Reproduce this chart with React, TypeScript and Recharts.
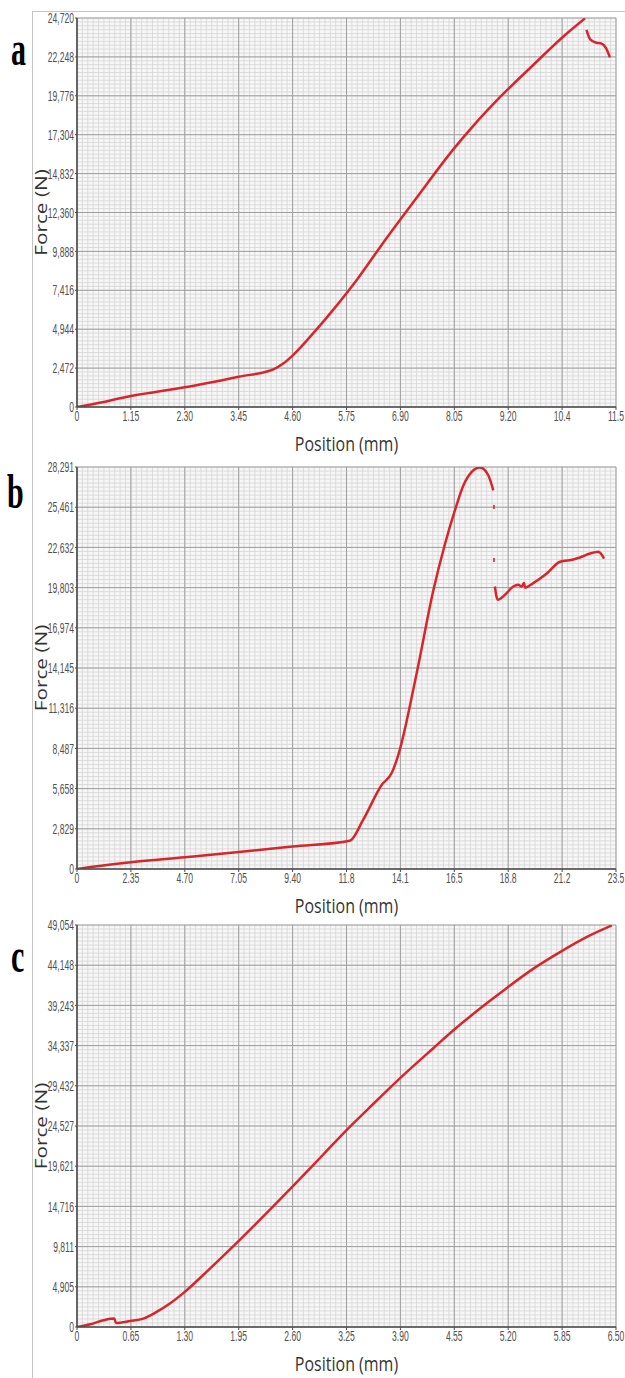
import React from 'react';
import { ComposedChart, Line, Scatter, XAxis, YAxis, CartesianGrid, Label } from 'recharts';

// ---------- Panel a ----------
const posTicksA = [0, 1.15, 2.3, 3.45, 4.6, 5.75, 6.9, 8.05, 9.2, 10.35, 11.5];
const posLabelsA = ['0', '1.15', '2.30', '3.45', '4.60', '5.75', '6.90', '8.05', '9.20', '10.4', '11.5'];
const forceTicksA = [0, 2472, 4944, 7416, 9888, 12360, 14832, 17304, 19776, 22248, 24720];
const aPos = [0, 0.3, 1.15, 2.3, 3.45, 4.19, 4.4, 4.61, 5.0, 5.5, 6.0, 6.5, 7.21, 8.05, 8.45, 9.03, 9.74, 10.36, 10.84];
const aForce = [0, 160, 700, 1250, 1925, 2395, 2760, 3300, 4550, 6300, 8200, 10300, 13150, 16450, 17850, 19700, 21750, 23500, 24700];
const aPostPos = [10.87, 10.95, 11.08, 11.18, 11.29, 11.37];
const aPostForce = [23960, 23360, 23150, 23110, 22790, 22220];

// ---------- Panel b ----------
const posTicksB = [0, 2.35, 4.7, 7.05, 9.4, 11.75, 14.1, 16.45, 18.8, 21.15, 23.5];
const posLabelsB = ['0', '2.35', '4.70', '7.05', '9.40', '11.8', '14.1', '16.5', '18.8', '21.2', '23.5'];
const forceTicksB = [0, 2829, 5658, 8487, 11316, 14145, 16974, 19803, 22632, 25461, 28291];
const bPos = [0, 0.6, 2.35, 4.7, 7.05, 9.4, 11.9, 12.48, 13.29, 13.72, 14.01, 14.81, 15.54, 16.05, 16.48, 16.85, 17.21, 17.57, 17.93, 18.15];
const bForce = [0, 140, 480, 830, 1190, 1580, 1990, 3470, 5930, 6750, 8030, 13780, 19630, 22910, 25250, 27010, 27950, 28260, 27710, 26650];
const bDotPos = [18.18, 18.18];
const bDotForce = [25480, 21750];
const bPostPos = [18.22, 18.34, 18.66, 19.02, 19.24, 19.39, 19.49, 19.53, 19.89, 20.48, 21.06, 21.64, 21.93, 22.37, 22.73, 22.98];
const bPostForce = [19880, 18950, 19300, 19880, 20000, 19880, 20120, 19800, 20120, 20800, 21620, 21780, 21920, 22200, 22320, 21850];

// ---------- Panel c ----------
const posTicksC = [0, 0.65, 1.3, 1.95, 2.6, 3.25, 3.9, 4.55, 5.2, 5.85, 6.5];
const posLabelsC = ['0', '0.65', '1.30', '1.95', '2.60', '3.25', '3.90', '4.55', '5.20', '5.85', '6.50'];
const forceTicksC = [0, 4905, 9811, 14716, 19621, 24527, 29432, 34337, 39243, 44148, 49054];
const cPos = [0, 0.16, 0.32, 0.45, 0.47, 0.64, 0.8, 0.96, 1.12, 1.3, 1.6, 1.96, 2.33, 2.61, 2.97, 3.26, 3.53, 3.9, 4.3, 4.55, 4.98, 5.2, 5.5, 5.85, 6.15, 6.45];
const cForce = [0, 330, 820, 1030, 490, 735, 1030, 1840, 2870, 4290, 7100, 10600, 14350, 17250, 21050, 24120, 26800, 30400, 34050, 36300, 39800, 41500, 43700, 45900, 47600, 49000];

const RED = '#d7262b';
const TICK_FONT = "'Liberation Sans', Arial, sans-serif";
const TITLE_FONT = "'Open Sans', 'Noto Sans', sans-serif";
const STRETCH = 1.3;
const NARROW = 0.78;

const zip = (xs: number[], ys: number[]) => xs.map((x, i) => ({ x, y: ys[i] }));
const subdivide = (ticks: number[], n: number) => {
  const out: number[] = [];
  for (let i = 0; i < ticks.length - 1; i++) {
    for (let k = 0; k < n; k++) out.push(ticks[i] + ((ticks[i + 1] - ticks[i]) * k) / n);
  }
  out.push(ticks[ticks.length - 1]);
  return out;
};

const makeXTick = (ticks: number[], labels: string[]) => (props: any) => {
  const { x, y, payload } = props;
  const idx = ticks.findIndex((t) => Math.abs(t - payload.value) < 1e-6);
  const txt = idx >= 0 ? labels[idx] : String(payload.value);
  return (
    <g transform={`translate(${x},${y}) scale(${NARROW},${STRETCH})`}>
      <text x={0} y={0} dy="0.72em" textAnchor="middle" fontSize={11} fill="#505050" fontFamily={TICK_FONT}>
        {txt}
      </text>
    </g>
  );
};

const YTick = (props: any) => {
  const { x, y, payload } = props;
  return (
    <g transform={`translate(${x},${y}) scale(${NARROW},${STRETCH})`}>
      <text x={0} y={0} dy="0.36em" textAnchor="end" fontSize={11} fill="#505050" fontFamily={TICK_FONT}>
        {Number(payload.value).toLocaleString('en-US')}
      </text>
    </g>
  );
};

const XTitle = (props: any) => {
  const vb = props.viewBox || {};
  const cx = vb.x + vb.width / 2;
  const cy = vb.y + 37;
  return (
    <g transform={`translate(${cx},${cy}) scale(1,${STRETCH})`}>
      <text x={0} y={0} dy="0.35em" textAnchor="middle" fontSize={16} fill="#333" fontFamily={TITLE_FONT}>
        Position (mm)
      </text>
    </g>
  );
};

const YTitle = (props: any) => {
  const vb = props.viewBox || {};
  const cy = vb.y + vb.height / 2;
  return (
    <g transform={`translate(41,${cy}) rotate(-90) scale(${STRETCH},1)`}>
      <text x={0} y={0} dy="0.35em" textAnchor="middle" fontSize={16} fill="#333" fontFamily={TITLE_FONT}>
        Force (N)
      </text>
    </g>
  );
};

const DotShape = (props: any) => <rect x={props.cx - 0.8} y={props.cy - 2} width={1.6} height={4} fill={RED} />;

type PanelProps = {
  top: number;
  height: number;
  marginTop: number;
  axisHeight: number;
  xTicks: number[];
  xLabels: string[];
  yTicks: number[];
  segments: { x: number; y: number }[][];
  dots?: { x: number; y: number }[];
};

const Panel = ({ top, height, marginTop, axisHeight, xTicks, xLabels, yTicks, segments, dots }: PanelProps) => {
  const xMax = xTicks[xTicks.length - 1];
  const yMax = yTicks[yTicks.length - 1];
  const xMinor = subdivide(xTicks, 10);
  const yMinor = subdivide(yTicks, 10);
  return (
    <div style={{ position: 'absolute', left: 0, top, width: 625, height }}>
      <ComposedChart width={625} height={height} margin={{ top: marginTop, right: 9, bottom: 0, left: 32 }}>
        <XAxis xAxisId="m" type="number" dataKey="x" domain={[0, xMax]} ticks={xMinor} interval={0} hide allowDataOverflow />
        <YAxis yAxisId="m" type="number" dataKey="y" domain={[0, yMax]} ticks={yMinor} interval={0} hide allowDataOverflow />
        <CartesianGrid xAxisId="m" yAxisId="m" stroke="#d6d6d6" strokeWidth={0.8} fill="#f7f7f7" />
        <CartesianGrid stroke="#9e9e9e" strokeWidth={1} />
        <XAxis
          type="number"
          dataKey="x"
          domain={[0, xMax]}
          ticks={xTicks}
          interval={0}
          height={axisHeight}
          allowDataOverflow
          axisLine={{ stroke: '#4d4d4d', strokeWidth: 1.6 }}
          tickLine={{ stroke: '#4d4d4d' }}
          tickSize={3}
          tickMargin={1}
          tick={makeXTick(xTicks, xLabels)}
        >
          <Label content={XTitle} />
        </XAxis>
        <YAxis
          type="number"
          dataKey="y"
          domain={[0, yMax]}
          ticks={yTicks}
          interval={0}
          width={45}
          allowDataOverflow
          axisLine={{ stroke: '#4d4d4d', strokeWidth: 1.6 }}
          tickLine={{ stroke: '#4d4d4d' }}
          tickSize={2}
          tickMargin={1}
          tick={YTick}
        >
          <Label content={YTitle} />
        </YAxis>
        {segments.map((seg, i) => (
          <Line
            key={i}
            data={seg}
            dataKey="y"
            type="monotone"
            stroke={RED}
            strokeWidth={2.5}
            dot={false}
            activeDot={false}
            isAnimationActive={false}
          />
        ))}
        {dots && <Scatter data={dots} dataKey="y" shape={DotShape} isAnimationActive={false} />}
      </ComposedChart>
    </div>
  );
};

const Letter = ({ ch, left, baseline }: { ch: string; left: number; baseline: number }) => (
  <g transform={`translate(${left},${baseline}) scale(1,1.6)`}>
    <text x={0} y={0} fontSize={30} fontWeight="bold" fill="#000" fontFamily="'Liberation Serif', 'DejaVu Serif', serif">
      {ch}
    </text>
  </g>
);

export default function App() {
  return (
    <div style={{ position: 'absolute', left: 0, top: 0, width: 625, height: 1378, background: '#fff', overflow: 'hidden' }}>
      <div style={{ position: 'absolute', left: 32, top: 11, width: 593, height: 1, background: '#c4c4c4' }} />
      <div style={{ position: 'absolute', left: 32, top: 11, width: 1, height: 1367, background: '#c4c4c4' }} />
      <Panel
        top={0}
        height={460}
        marginTop={18}
        axisHeight={53}
        xTicks={posTicksA}
        xLabels={posLabelsA}
        yTicks={forceTicksA}
        segments={[zip(aPos, aForce), zip(aPostPos, aPostForce)]}
      />
      <Panel
        top={455}
        height={466}
        marginTop={12}
        axisHeight={52}
        xTicks={posTicksB}
        xLabels={posLabelsB}
        yTicks={forceTicksB}
        segments={[zip(bPos, bForce), zip(bPostPos, bPostForce)]}
        dots={zip(bDotPos, bDotForce)}
      />
      <Panel
        top={915}
        height={463}
        marginTop={10}
        axisHeight={51}
        xTicks={posTicksC}
        xLabels={posLabelsC}
        yTicks={forceTicksC}
        segments={[zip(cPos, cForce)]}
      />
      <svg style={{ position: 'absolute', left: 0, top: 0 }} width={32} height={1378}>
        <Letter ch="a" left={11} baseline={65} />
        <Letter ch="b" left={7} baseline={508} />
        <Letter ch="c" left={11} baseline={972} />
      </svg>
    </div>
  );
}
